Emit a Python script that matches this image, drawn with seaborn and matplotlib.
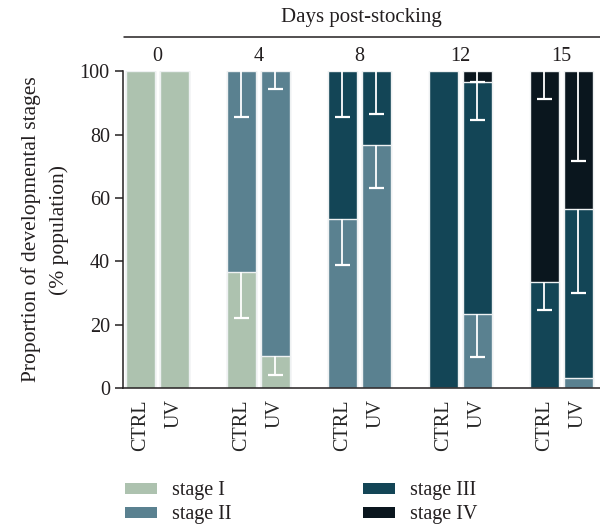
import numpy as np
import matplotlib
matplotlib.use("Agg")
import matplotlib.pyplot as plt
import matplotlib.transforms as mtransforms
from matplotlib.patches import Patch
from matplotlib.lines import Line2D
import seaborn as sns

# datos (porcentaje de la poblacion)
days = ["0", "4", "8", "12", "15"]
groups = ["CTRL", "UV"]
stage_names = ["stage I", "stage II", "stage III", "stage IV"]

# orden de barras: d0 CTRL, d0 UV, d4 CTRL, d4 UV, ...
stage1 = [100, 100, 36.6, 10.0, 0, 0, 0, 0, 0, 0]
stage2 = [0, 0, 63.4, 90.0, 53.3, 76.7, 0, 23.3, 0, 3.1]
stage3 = [0, 0, 0, 0, 46.7, 23.3, 100, 73.3, 33.5, 53.4]
stage4 = [0, 0, 0, 0, 0, 0, 0, 3.4, 66.5, 43.5]

# desviaciones (se dibujan hacia abajo desde el tope de cada segmento)
err1 = [0, 0, 14.6, 6.0, 0, 0, 0, 0, 0, 0]
err2 = [0, 0, 14.5, 5.7, 14.6, 13.5, 0, 13.4, 0, 0]
err3 = [0, 0, 0, 0, 14.5, 13.5, 0, 12.1, 8.9, 26.5]
err4 = [0, 0, 0, 0, 0, 0, 0, 3.4, 8.8, 28.4]

colors = ["#adc2af", "#5a8190", "#134556", "#0a161e"]

sns.set_style("ticks")
plt.rcParams["font.family"] = ["Liberation Serif", "DejaVu Serif"]
plt.rcParams["text.color"] = "#231f20"
plt.rcParams["axes.labelcolor"] = "#231f20"

fs = 14.5

fig = plt.figure(figsize=(6, 5.29), dpi=100)
ax = fig.add_axes([0.205, 0.2665, 0.795, 0.599])

# posiciones: grupos separados por un hueco
pos = []
for g in range(len(days)):
    pos.append(g * 3)
    pos.append(g * 3 + 1)
pos = np.array(pos)

stages = np.array([stage1, stage2, stage3, stage4])
errs = np.array([err1, err2, err3, err4])
cum = np.cumsum(stages, axis=0)

# barras apiladas: se dibuja del total hacia abajo
for k in range(3, -1, -1):
    sns.barplot(x=pos, y=cum[k], native_scale=True, width=0.86, orient="v",
                color=colors[k], saturation=1, edgecolor="#eef1f2",
                linewidth=1.0, errorbar=None, ax=ax)

# barras de error blancas
for k in range(4):
    for i in range(len(pos)):
        if errs[k][i] > 0:
            top = cum[k][i]
            low = top - errs[k][i]
            ax.vlines(pos[i], low, top, color="white", lw=1.3, zorder=5)
            ax.hlines(low, pos[i] - 0.22, pos[i] + 0.22, color="white", lw=1.6, zorder=5)

ax.set_xlim(-0.52, 13.65)
ax.set_ylim(0, 100)
ax.set_yticks([0, 20, 40, 60, 80, 100])
ax.set_xticks(pos)
ax.set_xticklabels(groups * len(days), rotation=90, fontsize=fs)
ax.tick_params(axis="x", length=0, pad=8)
ax.tick_params(axis="y", length=6, width=1.1, labelsize=fs, colors="#231f20")
ax.set_xlabel("")
ax.set_ylabel("Proportion of developmental stages\n(% population)", fontsize=15.5,
              labelpad=8, linespacing=1.5)
sns.despine(ax=ax)
for s in ["left", "bottom"]:
    ax.spines[s].set_color("#231f20")
    ax.spines[s].set_linewidth(1.1)

# eje superior de dias
fig.add_artist(Line2D([0.207, 1.0], [0.930, 0.930], color="#231f20", lw=1.1))
ax.text(0.5, 0.966, "Days post-stocking", ha="center", va="center", fontsize=15,
        transform=mtransforms.blended_transform_factory(ax.transAxes, fig.transFigure))
trans = mtransforms.blended_transform_factory(ax.transData, fig.transFigure)
for g, d in enumerate(days):
    ax.text(pos[2 * g] + 0.5, 0.893, d, ha="center", va="center", fontsize=fs, transform=trans)

handles = [Patch(facecolor=c, edgecolor="none") for c in colors]
fig.legend(handles, stage_names, ncol=2, loc="upper left",
           bbox_to_anchor=(125 / 600, 0.09), frameon=False, fontsize=fs,
           borderpad=0, borderaxespad=0, handlelength=1.6, handleheight=0.5,
           handletextpad=0.75, columnspacing=6.5, labelspacing=0.25)

fig.savefig("out.png", dpi=100)
